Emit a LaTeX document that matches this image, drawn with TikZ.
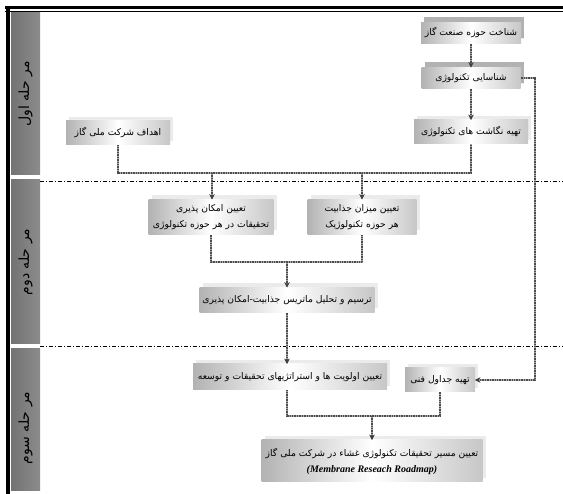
\documentclass[tikz,border=0pt]{standalone}
\usepackage{fontspec}
\setmainfont{Liberation Serif}
\newfontfamily\arabicfont[Script=Arabic]{DejaVu Sans}
\TeXXeTstate=1
\usetikzlibrary{arrows.meta,shadows}
\tikzset{
  box/.style={draw=none, shading=axis, left color=black!30, right color=black!22, middle color=white,
    general shadow={fill=black!8, shadow xshift=3pt, shadow yshift=4pt},
    inner sep=1pt, align=center, text=black,
    font=\arabicfont\fontsize{9.2}{16}\selectfont},
  darkshadow/.style={general shadow={fill=black!30, shadow xshift=3pt, shadow yshift=5pt}},
  conn/.style={draw=black!70, line width=1.4pt, dash pattern=on 0.9pt off 0.8pt,
    preaction={draw=black!35, line width=2.1pt, solid}},
  tip/.style={-{Stealth[length=5pt,width=5pt,black!75]}},
  sep/.style={draw=black, line width=0.5pt, dash pattern=on 4pt off 2pt on 1pt off 2pt},
  stagetxt/.style={rotate=90, font=\arabicfont\fontsize{14}{16}\selectfont, text=black},
  sidebar/.style={left color=black!55, middle color=white, right color=black!45},
}
\begin{document}
\begin{tikzpicture}[x=1pt,y=-1pt]
\useasboundingbox (0,0) rectangle (563,494);
% frame
\draw[line width=2.6pt] (5,7.5) -- (563,7.5);
\draw[line width=1.1pt] (5,11.5) -- (563,11.5);
\draw[line width=4pt] (8,6.2) -- (8,494);
% sidebars
\shade[sidebar] (11,13) rectangle (40,175);
\shade[sidebar] (11,180) rectangle (40,344);
\shade[sidebar] (11,349) rectangle (40,491);
\node[stagetxt] (s1) at (25.5,94) {\beginR مر حله اول\endR};
\node[stagetxt] (s2) at (25.5,262) {\beginR مر حله دوم\endR};
\node[stagetxt] (s3) at (25.5,428) {\beginR مر حله سوم\endR};
% separators
\draw[sep] (40,181) -- (563,181);
\draw[sep] (40,346.5) -- (563,346.5);
% nodes
\node[box, darkshadow, minimum width=100pt, minimum height=21pt] (n1) at (471,33) {\beginR شناخت حوزه صنعت گاز\endR};
\node[box, darkshadow, minimum width=99pt, minimum height=21pt] (n2) at (471,78) {\beginR شناسایی تکنولوژی\endR};
\node[box, minimum width=114pt, minimum height=24pt] (n3) at (471,132) {\beginR تهیه نگاشت های تکنولوژی\endR};
\node[box, minimum width=104pt, minimum height=24pt] (n4) at (118,133) {\beginR اهداف شرکت ملی گاز\endR};
\node[box, minimum width=125pt, minimum height=35pt] (n5) at (211,217) {\beginR تعیین امکان پذیری\endR\\\beginR تحقیقات در هر حوزه تکنولوژی\endR};
\node[box, minimum width=109pt, minimum height=35pt] (n6) at (362,217) {\beginR تعیین میزان جذابیت\endR\\\beginR هر حوزه تکنولوژیک\endR};
\node[box, minimum width=175pt, minimum height=25pt] (n7) at (287,300) {\beginR ترسیم و تحلیل ماتریس جذابیت-امکان پذیری\endR};
\node[box, minimum width=194pt, minimum height=26pt] (n8) at (290,377) {\beginR تعیین اولویت ها و استراتژیهای تحقیقات و توسعه\endR};
\node[box, minimum width=70pt, minimum height=24pt] (n9) at (440,380) {\beginR تهیه جداول فنی\endR};
\node[box, minimum width=221pt, minimum height=42pt] (n10) at (372,461) {\beginR تعیین مسیر تحقیقات تکنولوژی غشاء در شرکت ملی گاز\endR\\{\rmfamily\bfseries\itshape\fontsize{10}{12}\selectfont (Membrane Reseach Roadmap)}};
% junctions
\coordinate (j1) at (212,173);
\coordinate (j2) at (362,173);
\coordinate (j3) at (287,262);
\coordinate (j5) at (372,416);
\coordinate (fb) at (535,0);
% connectors
\draw[conn, tip] (n1.south) -- (n2.north);
\draw[conn, tip] (n2.south) -- (n3.north);
\draw[conn] (n4.south) -- (n4.south |- j1) -- (n3.south |- j1) -- (n3.south);
\draw[conn, tip] (j1) -- (n5.north -| j1);
\draw[conn, tip] (j2) -- (n6.north -| j2);
\draw[conn] (n5.south) -- (n5.south |- j3) -- (n6.south |- j3) -- (n6.south);
\draw[conn, tip] (j3) -- (n7.north);
\draw[conn, tip] (n7.south) -- (n7.south |- n8.north);
\draw[conn] (n8.south -| n7.south) -- (n7.south |- j5) -- (n9.south |- j5) -- (n9.south);
\draw[conn, tip] (j5) -- (j5 |- n10.north);
\draw[conn, tip] (n2.east) -- (n2.east -| fb) -- (fb |- n9.east) -- (n9.east);
\end{tikzpicture}
\end{document}
